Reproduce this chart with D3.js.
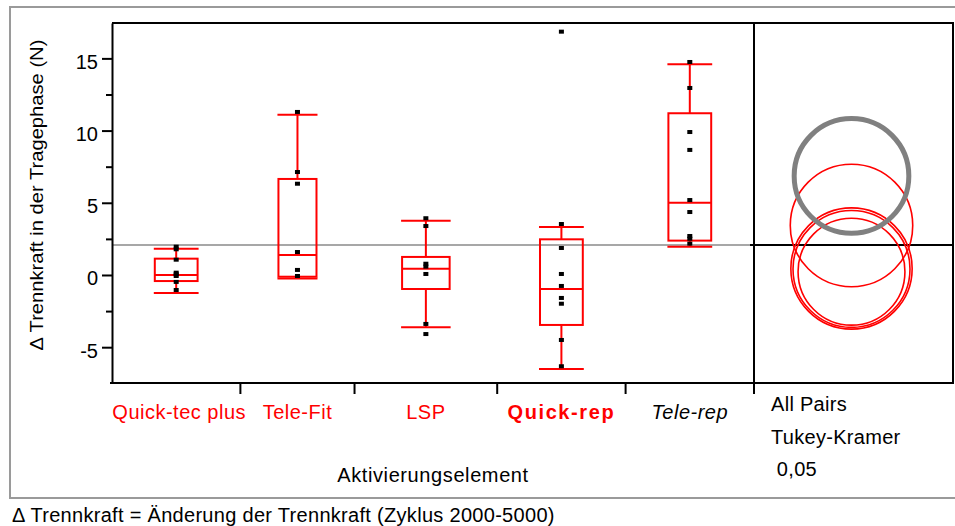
<!DOCTYPE html>
<html lang="de">
<head>
  <meta charset="UTF-8">
  <title>Trennkraft Tragephase</title>
  <script src="https://d3js.org/d3.v7.min.js"></script>
  <style>
    body {
      margin: 0;
      background: #fff;
      font-family: 'Liberation Sans', Arial, sans-serif;
    }
    svg text {
      font-family: 'Liberation Sans', Arial, sans-serif;
    }
    .axis path, .axis line {
      stroke: #000;
      stroke-width: 2px;
    }
    .axis text {
      font-size: 20px;
      fill: #000;
    }
  </style>
</head>
<body>
  <div id="chart"></div>
  <script>
    // groups and their sample sizes (x band widths follow n, as in JMP)
    const groups = ["Quick-tec plus", "Tele-Fit", "LSP", "Quick-rep", "Tele-rep"];
    const groupN = [9, 8, 10, 9, 9];

    // box plot summary per group
    const whiskerLow = [-1.25, -0.25, -3.62, -6.51, 1.96];
    const quart1 = [-0.42, -0.12, -0.97, -3.46, 2.38];
    const medians = [0.0, 1.38, 0.44, -0.97, 5.01];
    const quart3 = [1.13, 6.65, 1.25, 2.47, 11.2];
    const whiskerHigh = [1.82, 11.1, 3.76, 3.32, 14.59];

    // raw observations
    const points = [
      [1.96, 1.78, 1.06, 0.16, 0.05, -0.07, -0.48, -1.04],
      [11.29, 7.13, 6.32, 1.59, 0.35, -0.07],
      [3.93, 3.39, 0.78, 0.58, 0.07, -3.39, -4.09],
      [16.85, 3.53, 1.87, 0.07, -0.76, -1.59, -1.99, -4.50, -6.32],
      [14.75, 12.95, 9.90, 8.66, 5.19, 4.36, 2.70, 2.51, 2.17]
    ];

    const grandMean = 2.08;

    // comparison circles (Tukey-Kramer), centre and radius in N
    const circleGroup = ["Tele-Fit", "Quick-tec plus", "Quick-rep", "LSP", "Tele-rep"];
    const circleCenter = [3.43, 0.45, 0.42, 0.23, 6.86];
    const circleRadius = [4.24, 4.2, 4.05, 3.7, 3.97];

    const yTicks = [-5, 0, 5, 10, 15];
    const yMinorTicks = [-2.5, 2.5, 7.5, 12.5];

    const width = 955, height = 526;
    const plot = { left: 112, right: 754, top: 23, bottom: 383, panelRight: 953 };

    const svg = d3.select("#chart").append("svg")
      .attr("width", width)
      .attr("height", height);

    // outer report frame
    svg.append("path")
      .attr("d", `M955,7 H10 V498 H955`)
      .attr("fill", "none")
      .attr("stroke", "#9a9a9a")
      .attr("stroke-width", 2);

    const y = d3.scaleLinear()
      .domain([-7.48, 17.45])
      .range([plot.bottom, plot.top]);

    const cum = [0];
    groupN.forEach((n, i) => cum.push(cum[i] + n));
    const x = d3.scaleLinear()
      .domain([0, d3.sum(groupN)])
      .range([plot.left, plot.right]);

    // grand mean line
    svg.append("line")
      .attr("x1", plot.left).attr("x2", plot.right)
      .attr("y1", y(grandMean)).attr("y2", y(grandMean))
      .attr("stroke", "#8a8a8a")
      .attr("stroke-width", 1.5);

    // box plots
    groups.forEach((g, i) => {
      const x0 = x(cum[i]), x1 = x(cum[i + 1]);
      const cx = (x0 + x1) / 2;
      const bw = (x1 - x0) / 3;
      const gBox = svg.append("g").attr("stroke", "#ff0000").attr("stroke-width", 2).attr("fill", "none");
      gBox.append("line").attr("x1", cx).attr("x2", cx)
        .attr("y1", y(whiskerHigh[i])).attr("y2", y(quart3[i]));
      gBox.append("line").attr("x1", cx).attr("x2", cx)
        .attr("y1", y(quart1[i])).attr("y2", y(whiskerLow[i]));
      gBox.append("line").attr("x1", cx - bw / 2 - 1).attr("x2", cx + bw / 2 + 1)
        .attr("y1", y(whiskerHigh[i])).attr("y2", y(whiskerHigh[i]));
      gBox.append("line").attr("x1", cx - bw / 2 - 1).attr("x2", cx + bw / 2 + 1)
        .attr("y1", y(whiskerLow[i])).attr("y2", y(whiskerLow[i]));
      gBox.append("rect")
        .attr("x", cx - bw / 2).attr("width", bw)
        .attr("y", y(quart3[i])).attr("height", y(quart1[i]) - y(quart3[i]));
      gBox.append("line").attr("x1", cx - bw / 2).attr("x2", cx + bw / 2)
        .attr("y1", y(medians[i])).attr("y2", y(medians[i]));

      svg.selectAll(null)
        .data(points[i])
        .enter().append("rect")
        .attr("x", cx - 2.5)
        .attr("y", d => y(d) - 2)
        .attr("width", 5)
        .attr("height", 4)
        .attr("fill", "#000");
    });

    // y axis
    svg.append("g")
      .attr("class", "axis")
      .attr("transform", `translate(${plot.left},0)`)
      .call(d3.axisLeft(y).tickValues(yTicks).tickSize(10).tickPadding(4).tickSizeOuter(0)
        .tickFormat(d => String(d)))
      .call(g => g.selectAll("text").attr("dy", "0.5em"));
    svg.append("g")
      .attr("class", "axis")
      .attr("transform", `translate(${plot.left},0)`)
      .call(d3.axisLeft(y).tickValues(yMinorTicks).tickSize(6).tickFormat(""))
      .call(g => g.select(".domain").remove());

    // frame: top, right, panel divider, bottom
    svg.append("path")
      .attr("d", `M${plot.left},${plot.top} H${plot.panelRight} V${plot.bottom} H${plot.left - 2}`)
      .attr("fill", "none")
      .attr("stroke", "#000")
      .attr("stroke-width", 2);
    svg.append("line")
      .attr("x1", plot.right).attr("x2", plot.right)
      .attr("y1", plot.top).attr("y2", plot.bottom)
      .attr("stroke", "#000").attr("stroke-width", 2);

    // x axis ticks at group boundaries
    svg.selectAll(".xtick")
      .data(cum.slice(1))
      .enter().append("line")
      .attr("class", "xtick")
      .attr("x1", d => x(d)).attr("x2", d => x(d))
      .attr("y1", plot.bottom).attr("y2", plot.bottom + 11)
      .attr("stroke", "#000").attr("stroke-width", 2);

    // x labels
    const labelStyle = [
      { fill: "#ff0000", weight: "normal", italic: false, ls: 0.5 },
      { fill: "#ff0000", weight: "normal", italic: false, ls: 0.5 },
      { fill: "#ff0000", weight: "normal", italic: false, ls: 0.5 },
      { fill: "#ff0000", weight: "bold", italic: false, ls: 1.6 },
      { fill: "#000", weight: "normal", italic: true, ls: 0.5 }
    ];
    groups.forEach((g, i) => {
      const s = labelStyle[i];
      svg.append("text")
        .attr("x", (x(cum[i]) + x(cum[i + 1])) / 2 + (i === 0 ? 3 : 0))
        .attr("y", 419)
        .attr("text-anchor", "middle")
        .style("font-size", "20px")
        .style("letter-spacing", s.ls + "px")
        .style("font-weight", s.weight)
        .style("font-style", s.italic ? "italic" : "normal")
        .attr("fill", s.fill)
        .text(g);
    });

    svg.append("text")
      .attr("x", (plot.left + plot.right) / 2)
      .attr("y", 481.5)
      .attr("text-anchor", "middle")
      .style("font-size", "20px")
      .style("letter-spacing", "0.6px")
      .text("Aktivierungselement");

    svg.append("text")
      .attr("transform", `translate(43,195) rotate(-90) scale(1.12,1)`)
      .attr("text-anchor", "middle")
      .style("font-size", "18px")
      .text("\u0394 Trennkraft in der Tragephase (N)");

    // comparison circles panel
    const pcx = (plot.right + plot.panelRight) / 2 - 2;
    svg.append("line")
      .attr("x1", plot.right - 4).attr("x2", plot.panelRight)
      .attr("y1", y(grandMean)).attr("y2", y(grandMean))
      .attr("stroke", "#000").attr("stroke-width", 2);

    const pxPerUnit = y(0) - y(1);
    svg.selectAll(".cmp")
      .data(circleGroup)
      .enter().append("circle")
      .attr("class", "cmp")
      .attr("cx", pcx)
      .attr("cy", (d, i) => y(circleCenter[i]))
      .attr("r", (d, i) => circleRadius[i] * pxPerUnit)
      .attr("fill", "none")
      .attr("stroke", d => d === "Tele-rep" ? "#808080" : "#ff0000")
      .attr("stroke-width", d => d === "Tele-rep" ? 5 : 1.6);

    const note = ["All Pairs", "Tukey-Kramer", " 0,05"];
    const noteY = [410.5, 444, 476];
    note.forEach((t, i) => {
      svg.append("text")
        .attr("x", 771)
        .attr("y", noteY[i])
        .style("font-size", "20px")
        .style("letter-spacing", "0.3px")
        .style("white-space", "pre")
        .text(t);
    });

    svg.append("text")
      .attr("x", 12)
      .attr("y", 521.5)
      .style("font-size", "20px")
      .style("letter-spacing", "0.3px")
      .text("\u0394 Trennkraft = \u00c4nderung der Trennkraft (Zyklus 2000-5000)");
  </script>
</body>
</html>
